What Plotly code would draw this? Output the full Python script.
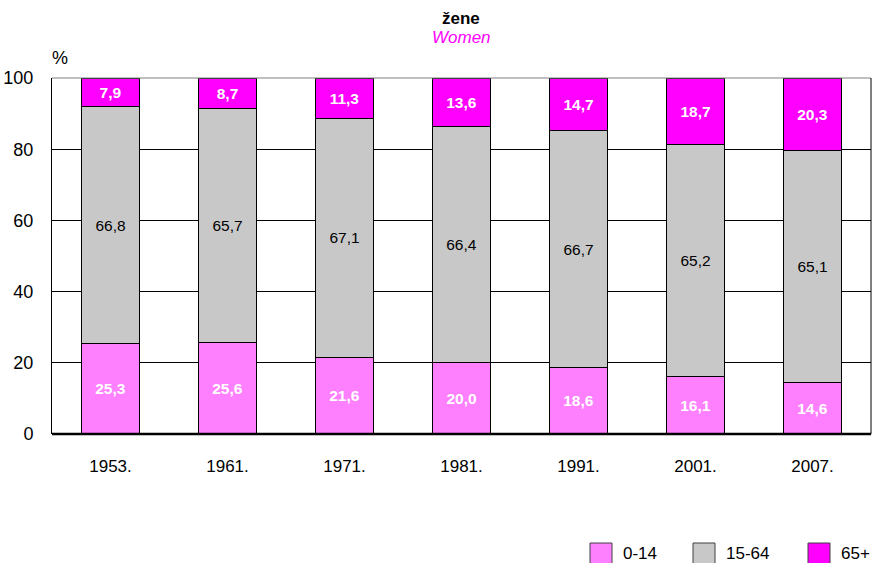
import plotly.graph_objects as go

years = ["1953.", "1961.", "1971.", "1981.", "1991.", "2001.", "2007."]
age_0_14 = [25.3, 25.6, 21.6, 20.0, 18.6, 16.1, 14.6]
age_15_64 = [66.8, 65.7, 67.1, 66.4, 66.7, 65.2, 65.1]
age_65p = [7.9, 8.7, 11.3, 13.6, 14.7, 18.7, 20.3]
series_names = ["0-14", "15-64", "65+"]
colors = ["#FF80FF", "#C8C8C8", "#FF00FF"]

FONT = "Liberation Sans, Arial, sans-serif"

def fmt(v):
    return f"{v:.1f}".replace(".", ",")

fig = go.Figure()
series = [age_0_14, age_15_64, age_65p]
bold = [True, False, True]
tcolors = ["white", "black", "white"]
for vals, name, col, b, tc in zip(series, series_names, colors, bold, tcolors):
    fig.add_trace(go.Bar(
        x=years, y=vals, name=name,
        marker=dict(color=col, line=dict(color="black", width=1)),
        texttemplate=[("<b>%s</b>" % fmt(v)) if b else fmt(v) for v in vals],
        textposition="inside", insidetextanchor="middle",
        textfont=dict(color=tc, size=15.5, family=FONT),
        textangle=0,
        width=0.5,
        showlegend=False,
    ))

fig.update_layout(
    barmode="stack",
    width=873, height=563,
    margin=dict(l=52, r=2, t=78, b=129),
    plot_bgcolor="white", paper_bgcolor="white",
    font=dict(family=FONT, size=17, color="black"),
    uniformtext=dict(minsize=8, mode="show"),
    xaxis=dict(
        showgrid=False, showline=False, ticks="", ticklabelstandoff=20,
        tickfont=dict(size=17), zeroline=False,
    ),
    yaxis=dict(
        range=[0, 100], tickvals=[0, 20, 40, 60, 80, 100],
        showgrid=True, gridcolor="black", gridwidth=1,
        showline=True, linecolor="black", linewidth=1,
        ticks="", ticklabelstandoff=14, zeroline=False,
        tickfont=dict(size=18),
    ),
)

fig.add_shape(type="line", xref="paper", yref="paper", x0=0, x1=1, y0=1, y1=1,
              line=dict(color="#808080", width=1))
fig.add_shape(type="line", xref="paper", yref="paper", x0=1, x1=1, y0=0, y1=1,
              line=dict(color="black", width=1))
fig.add_shape(type="line", xref="paper", yref="paper", x0=0, x1=1, y0=0, y1=0,
              line=dict(color="black", width=2.5))

fig.add_annotation(text="<b>žene</b>", xref="paper", yref="paper", x=(461 - 52) / 819, y=1.0,
                   yshift=60, showarrow=False, font=dict(size=17, color="black"),
                   xanchor="center", yanchor="middle")
fig.add_annotation(text="<i>Women</i>", xref="paper", yref="paper", x=(461 - 52) / 819, y=1.0,
                   yshift=41, showarrow=False, font=dict(size=17, color="#FF00FF"),
                   xanchor="center", yanchor="middle")
fig.add_annotation(text="%", xref="paper", yref="paper", x=(60 - 52) / 819, y=1.0, yshift=20,
                   showarrow=False, font=dict(size=18), xanchor="center", yanchor="middle")

leg_x = [590, 693, 808]
for lx, name, col in zip(leg_x, series_names, colors):
    x0 = (lx - 52) / 819
    x1 = (lx + 22 - 52) / 819
    y0 = (434 - 564) / 356
    y1 = (434 - 543) / 356
    fig.add_shape(type="rect", xref="paper", yref="paper", x0=x0, x1=x1, y0=y0, y1=y1,
                  fillcolor=col, line=dict(color="#404040", width=1))
    fig.add_annotation(text=name, xref="paper", yref="paper", x=(lx + 31 - 52) / 819,
                       y=(434 - 553) / 356, showarrow=False, xanchor="left",
                       yanchor="middle", font=dict(size=17))

fig.write_html("out.html", config={"displayModeBar": False},
               post_script="document.body.style.margin='0';document.body.style.padding='0';")
